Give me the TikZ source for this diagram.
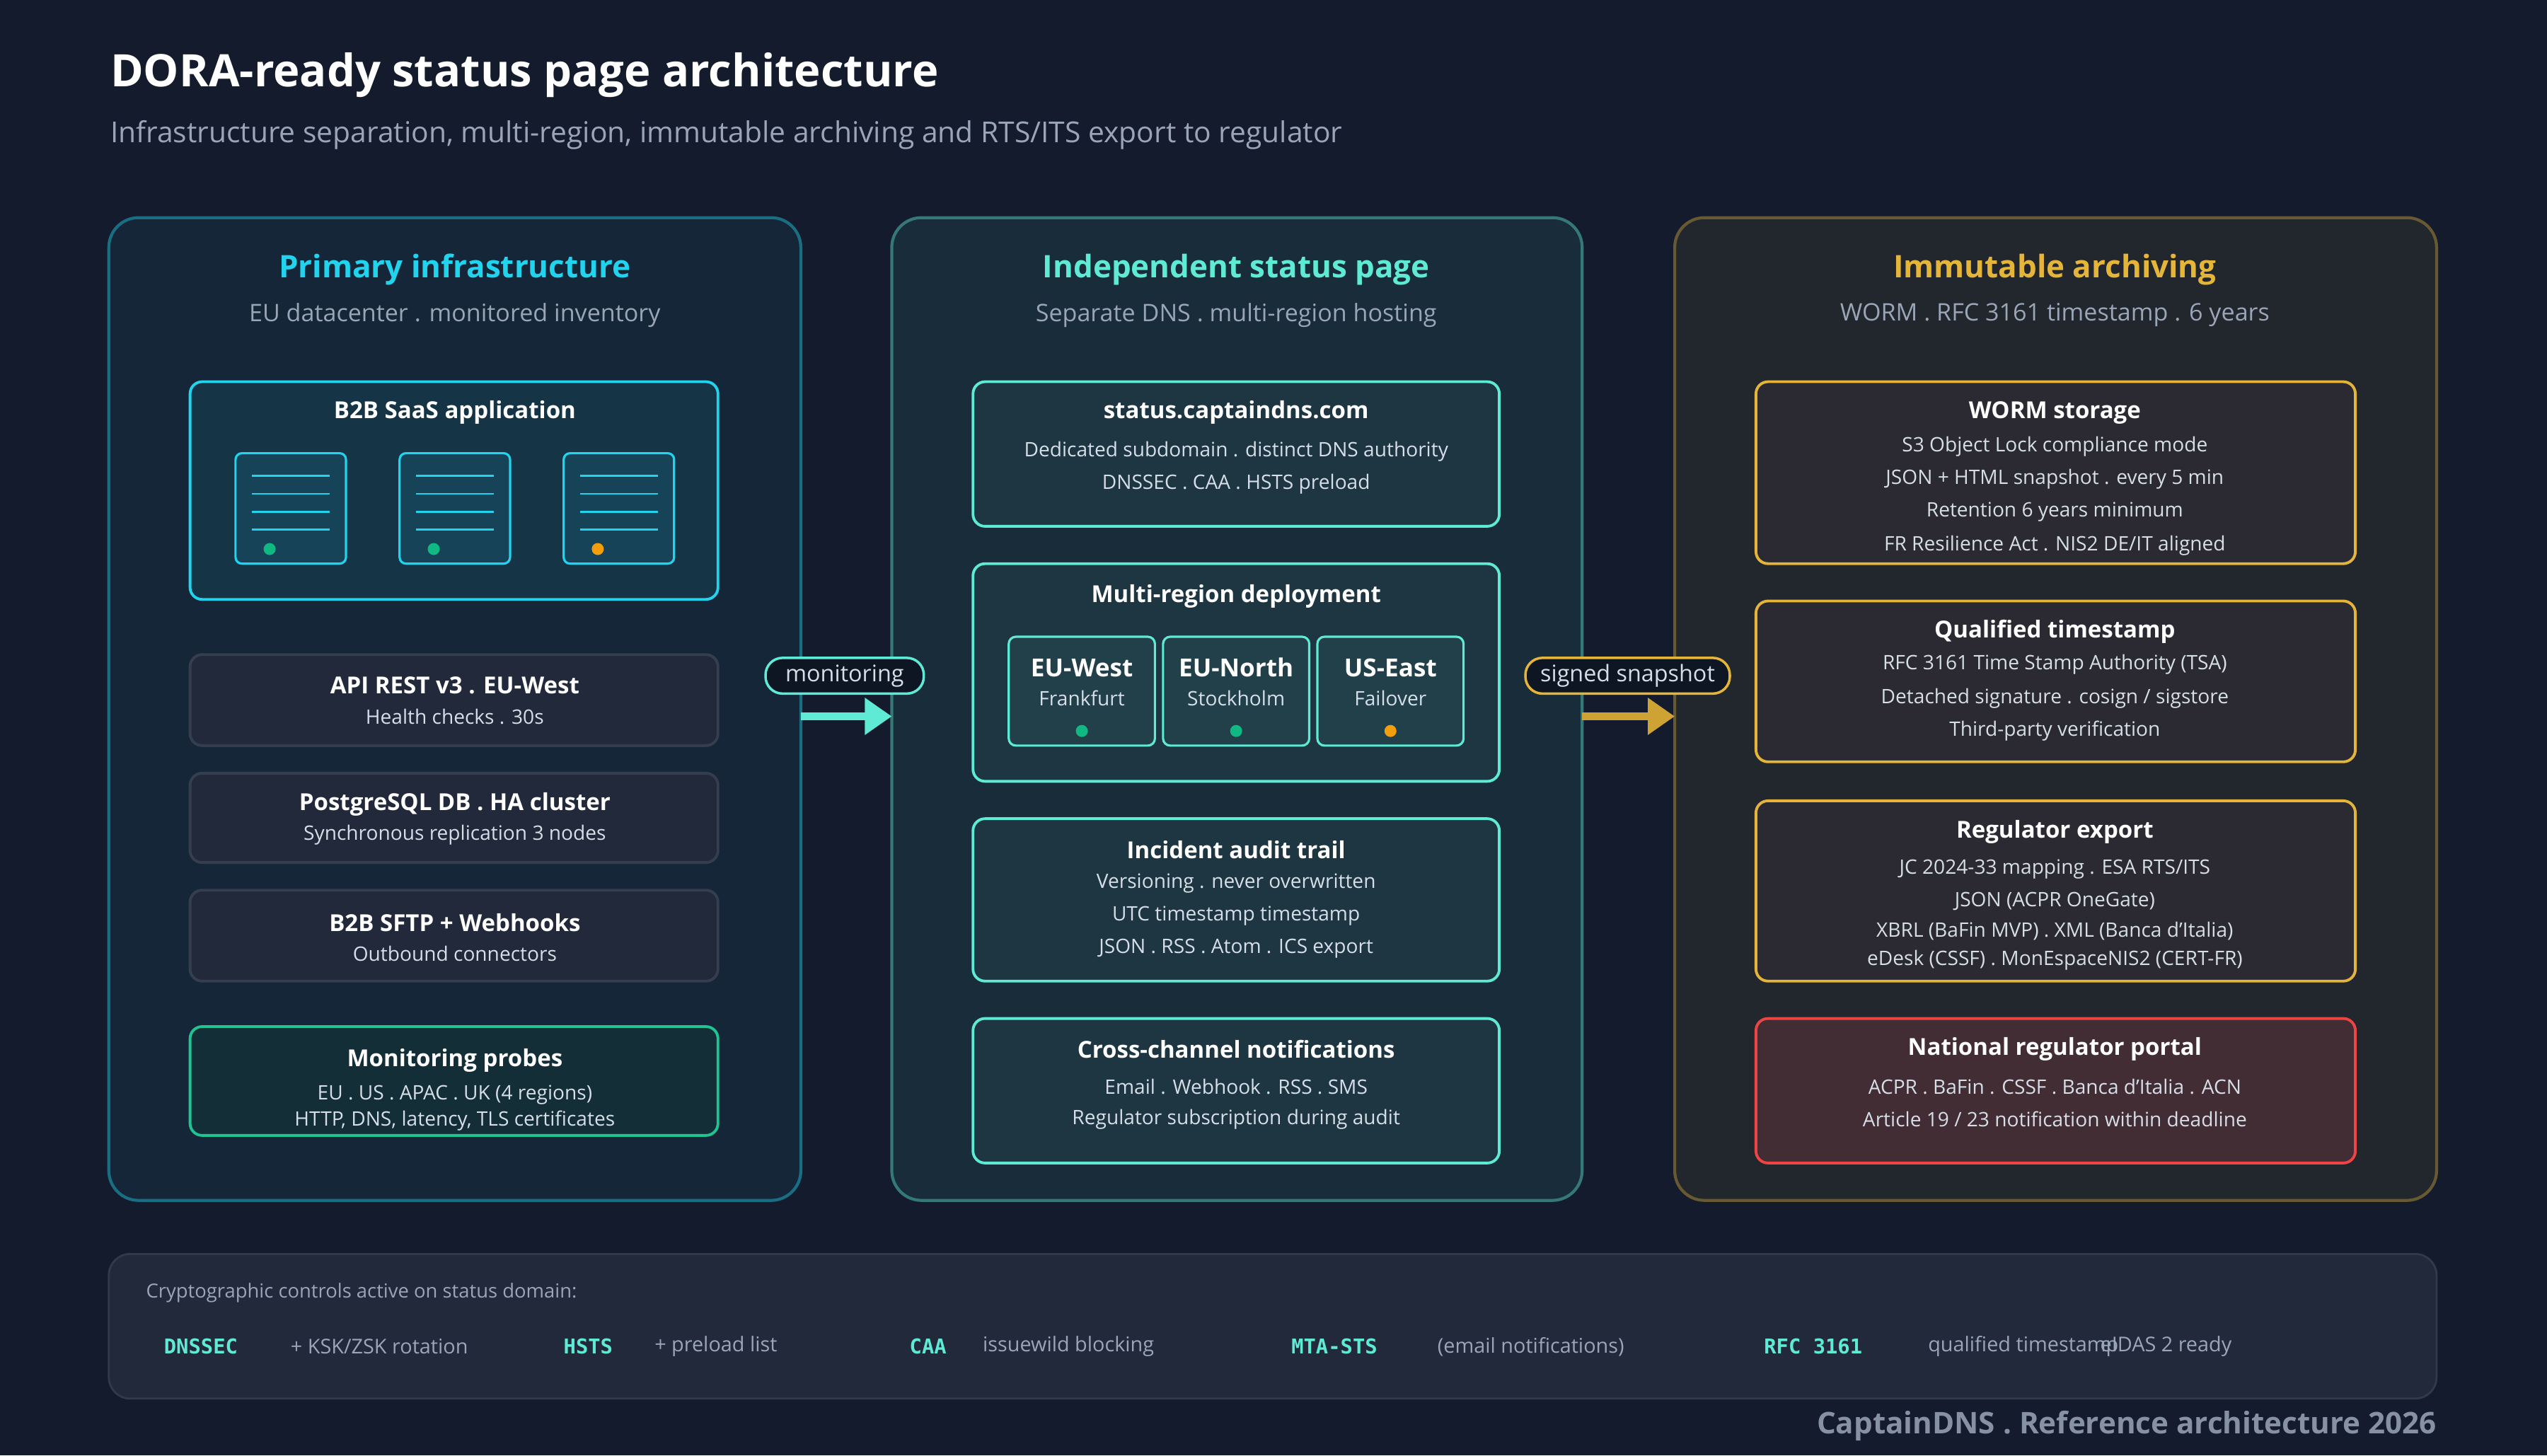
\documentclass[tikz,border=0pt]{standalone}
\usepackage{fontspec}
\setmainfont{Open Sans}
\newfontfamily\mono{DejaVu Sans Mono}
\usetikzlibrary{arrows.meta}
\definecolor{bg}{HTML}{131B2C}
\definecolor{cyanA}{HTML}{22D3EE}
\definecolor{tealA}{HTML}{5EEAD4}
\definecolor{goldA}{HTML}{E5B53A}
\definecolor{redA}{HTML}{EF4444}
\definecolor{greyT}{HTML}{9AA6B8}
\definecolor{txt}{HTML}{D6DEE8}
\definecolor{okG}{HTML}{10B981}
\definecolor{warnO}{HTML}{F59E0B}
\definecolor{rfill}{HTML}{2B2A32}
\newcommand\rbox[6]{\node[#1,minimum width={(#4-#2)*0.02296cm},minimum height={(#5-#3)*0.02296cm}] (#6) at ({(#2+#4)/2},{(#3+#5)/2}) {};}
\begin{document}
\begin{tikzpicture}[x=0.02296cm,y=-0.02296cm,
  every node/.style={inner sep=0pt,outer sep=0pt},
  panel/.style={draw,line width=1.2pt,rounded corners=0.42cm},
  bx/.style={draw,line width=1.1pt,rounded corners=0.17cm},
  btitle/.style={font=\fontsize{9.4}{11}\selectfont\bfseries,text=white},
  bline/.style={font=\fontsize{8}{10}\selectfont,text=txt},
  ptitle/.style={font=\fontsize{12.5}{15}\selectfont\bfseries},
  psub/.style={font=\fontsize{9.7}{12}\selectfont,text=greyT},
  dot/.style={circle,minimum size=0.17cm},
  pill/.style={draw,line width=1pt,rounded corners=0.24cm,fill=bg!80!black,inner xsep=6pt,minimum height={22*0.02296cm},font=\fontsize{9.2}{11}\selectfont,text=txt},
  mono/.style={font=\mono\bfseries\fontsize{8.2}{10}\selectfont,text=tealA,anchor=west},
  ftxt/.style={font=\fontsize{8.2}{10}\selectfont,text=greyT,anchor=west}]
\fill[bg] (0,0) rectangle (1568,896);
\useasboundingbox (0,0) rectangle (1568,896);
\node[anchor=west,font=\fontsize{18}{22}\selectfont\bfseries,text=white] (title) at (68,46) {DORA-ready status page architecture};
\node[anchor=west,font=\fontsize{11.6}{14}\selectfont,text=greyT] (subtitle) at (68,83) {Infrastructure separation, multi-region, immutable archiving and RTS/ITS export to regulator};
% panels
\rbox{panel,draw=cyanA!45!bg,fill=cyanA!6!bg}{67}{134}{493}{739}{pL}
\rbox{panel,draw=tealA!45!bg,fill=tealA!8!bg}{549}{134}{974}{739}{pM}
\rbox{panel,draw=goldA!40!bg,fill=goldA!7!bg}{1031}{134}{1500}{739}{pR}
\node[ptitle,text=cyanA] (tL) at (280,166) {Primary infrastructure};
\node[psub] (sL) at (280,194) {EU datacenter . monitored inventory};
\node[ptitle,text=tealA] (tM) at (761,166) {Independent status page};
\node[psub] (sM) at (761,194) {Separate DNS . multi-region hosting};
\node[ptitle,text=goldA] (tR) at (1265,166) {Immutable archiving};
\node[psub] (sR) at (1265,194) {WORM . RFC 3161 timestamp . 6 years};
% left column
\rbox{bx,draw=cyanA,fill=cyanA!14!bg}{117}{235}{442}{369}{app}
\node[btitle] (appT) at (280,254) {B2B SaaS application};
\foreach \x/\c [count=\i] in {145/okG,246/okG,347/warnO}{
  \rbox{bx,draw=cyanA,fill=cyanA!22!bg,rounded corners=0.09cm,line width=0.9pt}{\x}{279}{\x+68}{347}{srv\i}
  \foreach \yy in {293,304,315,326}{\draw[cyanA,line width=0.8pt] (\x+10,\yy) -- (\x+58,\yy);}
  \node[dot,fill=\c] (srvd\i) at (\x+21,338) {};
}
\rbox{bx,draw=greyT!25!bg,fill=greyT!10!bg}{117}{403}{442}{459}{api}
\node[btitle] (apiT) at (280,422) {API REST v3 . EU-West};
\node[bline] (apiS) at (280,441) {Health checks . 30s};
\rbox{bx,draw=greyT!25!bg,fill=greyT!10!bg}{117}{476}{442}{531}{db}
\node[btitle] (dbT) at (280,495) {PostgreSQL DB . HA cluster};
\node[bline] (dbS) at (280,514) {Synchronous replication 3 nodes};
\rbox{bx,draw=greyT!25!bg,fill=greyT!10!bg}{117}{548}{442}{604}{sftp}
\node[btitle] (sftpT) at (280,568) {B2B SFTP + Webhooks};
\node[bline] (sftpS) at (280,587) {Outbound connectors};
\rbox{bx,draw=okG!80!tealA,fill=okG!12!bg}{117}{632}{442}{699}{probe}
\node[btitle] (prT) at (280,653) {Monitoring probes};
\node[bline] (pr1) at (280,674) {EU . US . APAC . UK (4 regions)};
\node[bline] (pr2) at (280,690) {HTTP, DNS, latency, TLS certificates};
% middle column
\tikzset{mb/.style={bx,draw=tealA,fill=tealA!13!bg}}
\rbox{mb}{599}{235}{923}{324}{stat}
\node[btitle] (stT) at (761,254) {status.captaindns.com};
\node[bline] (st1) at (761,278) {Dedicated subdomain . distinct DNS authority};
\node[bline] (st2) at (761,298) {DNSSEC . CAA . HSTS preload};
\rbox{mb}{599}{347}{923}{481}{multi}
\node[btitle] (muT) at (761,367) {Multi-region deployment};
\foreach \x/\n/\s/\c [count=\i] in {621/EU-West/Frankfurt/okG,716/EU-North/Stockholm/okG,811/US-East/Failover/warnO}{
  \rbox{bx,draw=tealA,fill=tealA!18!bg,rounded corners=0.1cm,line width=0.9pt}{\x}{392}{\x+90}{459}{reg\i}
  \node[btitle,font=\fontsize{10}{12}\selectfont\bfseries] (regn\i) at (\x+45,411) {\n};
  \node[bline] (regs\i) at (\x+45,430) {\s};
  \node[dot,fill=\c] (regd\i) at (\x+45,450) {};
}
\rbox{mb}{599}{504}{923}{604}{audit}
\node[btitle] (auT) at (761,523) {Incident audit trail};
\node[bline] (au1) at (761,544) {Versioning . never overwritten};
\node[bline] (au2) at (761,564) {UTC timestamp timestamp};
\node[bline] (au3) at (761,584) {JSON . RSS . Atom . ICS export};
\rbox{mb}{599}{627}{923}{716}{notif}
\node[btitle] (noT) at (761,646) {Cross-channel notifications};
\node[bline] (no1) at (761,669) {Email . Webhook . RSS . SMS};
\node[bline] (no2) at (761,689) {Regulator subscription during audit};
% right column
\tikzset{rb/.style={bx,draw=goldA,fill=rfill}}
\rbox{rb}{1081}{235}{1450}{347}{worm}
\node[btitle] (woT) at (1265,254) {WORM storage};
\node[bline] (wo1) at (1265,275) {S3 Object Lock compliance mode};
\node[bline] (wo2) at (1265,295) {JSON + HTML snapshot . every 5 min};
\node[bline] (wo3) at (1265,315) {Retention 6 years minimum};
\node[bline] (wo4) at (1265,336) {FR Resilience Act . NIS2 DE/IT aligned};
\rbox{rb}{1081}{370}{1450}{469}{tsa}
\node[btitle] (tsT) at (1265,389) {Qualified timestamp};
\node[bline] (ts1) at (1265,409) {RFC 3161 Time Stamp Authority (TSA)};
\node[bline] (ts2) at (1265,430) {Detached signature . cosign / sigstore};
\node[bline] (ts3) at (1265,450) {Third-party verification};
\rbox{rb}{1081}{493}{1450}{604}{exp}
\node[btitle] (exT) at (1265,512) {Regulator export};
\node[bline] (ex1) at (1265,535) {JC 2024-33 mapping . ESA RTS/ITS};
\node[bline] (ex2) at (1265,555) {JSON (ACPR OneGate)};
\node[bline] (ex3) at (1265,573) {XBRL (BaFin MVP) . XML (Banca d'Italia)};
\node[bline] (ex4) at (1265,591) {eDesk (CSSF) . MonEspaceNIS2 (CERT-FR)};
\rbox{bx,draw=redA,fill=redA!12!rfill}{1081}{627}{1450}{716}{nat}
\node[btitle] (naT) at (1265,646) {National regulator portal};
\node[bline] (na1) at (1265,669) {ACPR . BaFin . CSSF . Banca d'Italia . ACN};
\node[bline] (na2) at (1265,689) {Article 19 / 23 notification within deadline};
% connectors
\coordinate (a1s) at (493,441); \coordinate (a1e) at (549,441);
\coordinate (a2s) at (974,441); \coordinate (a2e) at (1031,441);
\draw[tealA,line width=3pt,-{Triangle[length=0.38cm,width=0.5cm]}] (a1s) -- (a1e);
\draw[goldA!90!black,line width=3pt,-{Triangle[length=0.38cm,width=0.5cm]}] (a2s) -- (a2e);
\node[pill,draw=tealA,inner xsep=8pt] (lmon) at (520,416) {monitoring};
\node[pill,draw=goldA] (lsnap) at (1002,416) {signed snapshot};
% bottom strip
\rbox{bx,draw=greyT!22!bg,fill=greyT!10!bg,rounded corners=0.3cm,line width=0.8pt}{67}{772}{1500}{861}{strip}
\node[ftxt,font=\fontsize{7.8}{9}\selectfont] (stripT) at (90,796) {Cryptographic controls active on status domain:};
\node[mono] (k1) at (101,829) {DNSSEC}; \node[ftxt] (v1) at (179,829) {+ KSK/ZSK rotation};
\node[mono] (k2) at (347,829) {HSTS}; \node[ftxt] (v2) at (403,829) {+ preload list};
\node[mono] (k3) at (560,829) {CAA}; \node[ftxt] (v3) at (605,829) {issuewild blocking};
\node[mono] (k4) at (795,829) {MTA-STS}; \node[ftxt] (v4) at (885,829) {(email notifications)};
\node[mono] (k5) at (1086,829) {RFC 3161}; \node[ftxt] (v5) at (1187,829) {qualified timestamp};
\node[ftxt] (v6) at (1293,829) {eIDAS 2 ready};
\node[anchor=east,font=\fontsize{12}{14}\selectfont\bfseries,text=greyT!85!bg] (foot) at (1500,878) {CaptainDNS . Reference architecture 2026};
\end{tikzpicture}
\end{document}
